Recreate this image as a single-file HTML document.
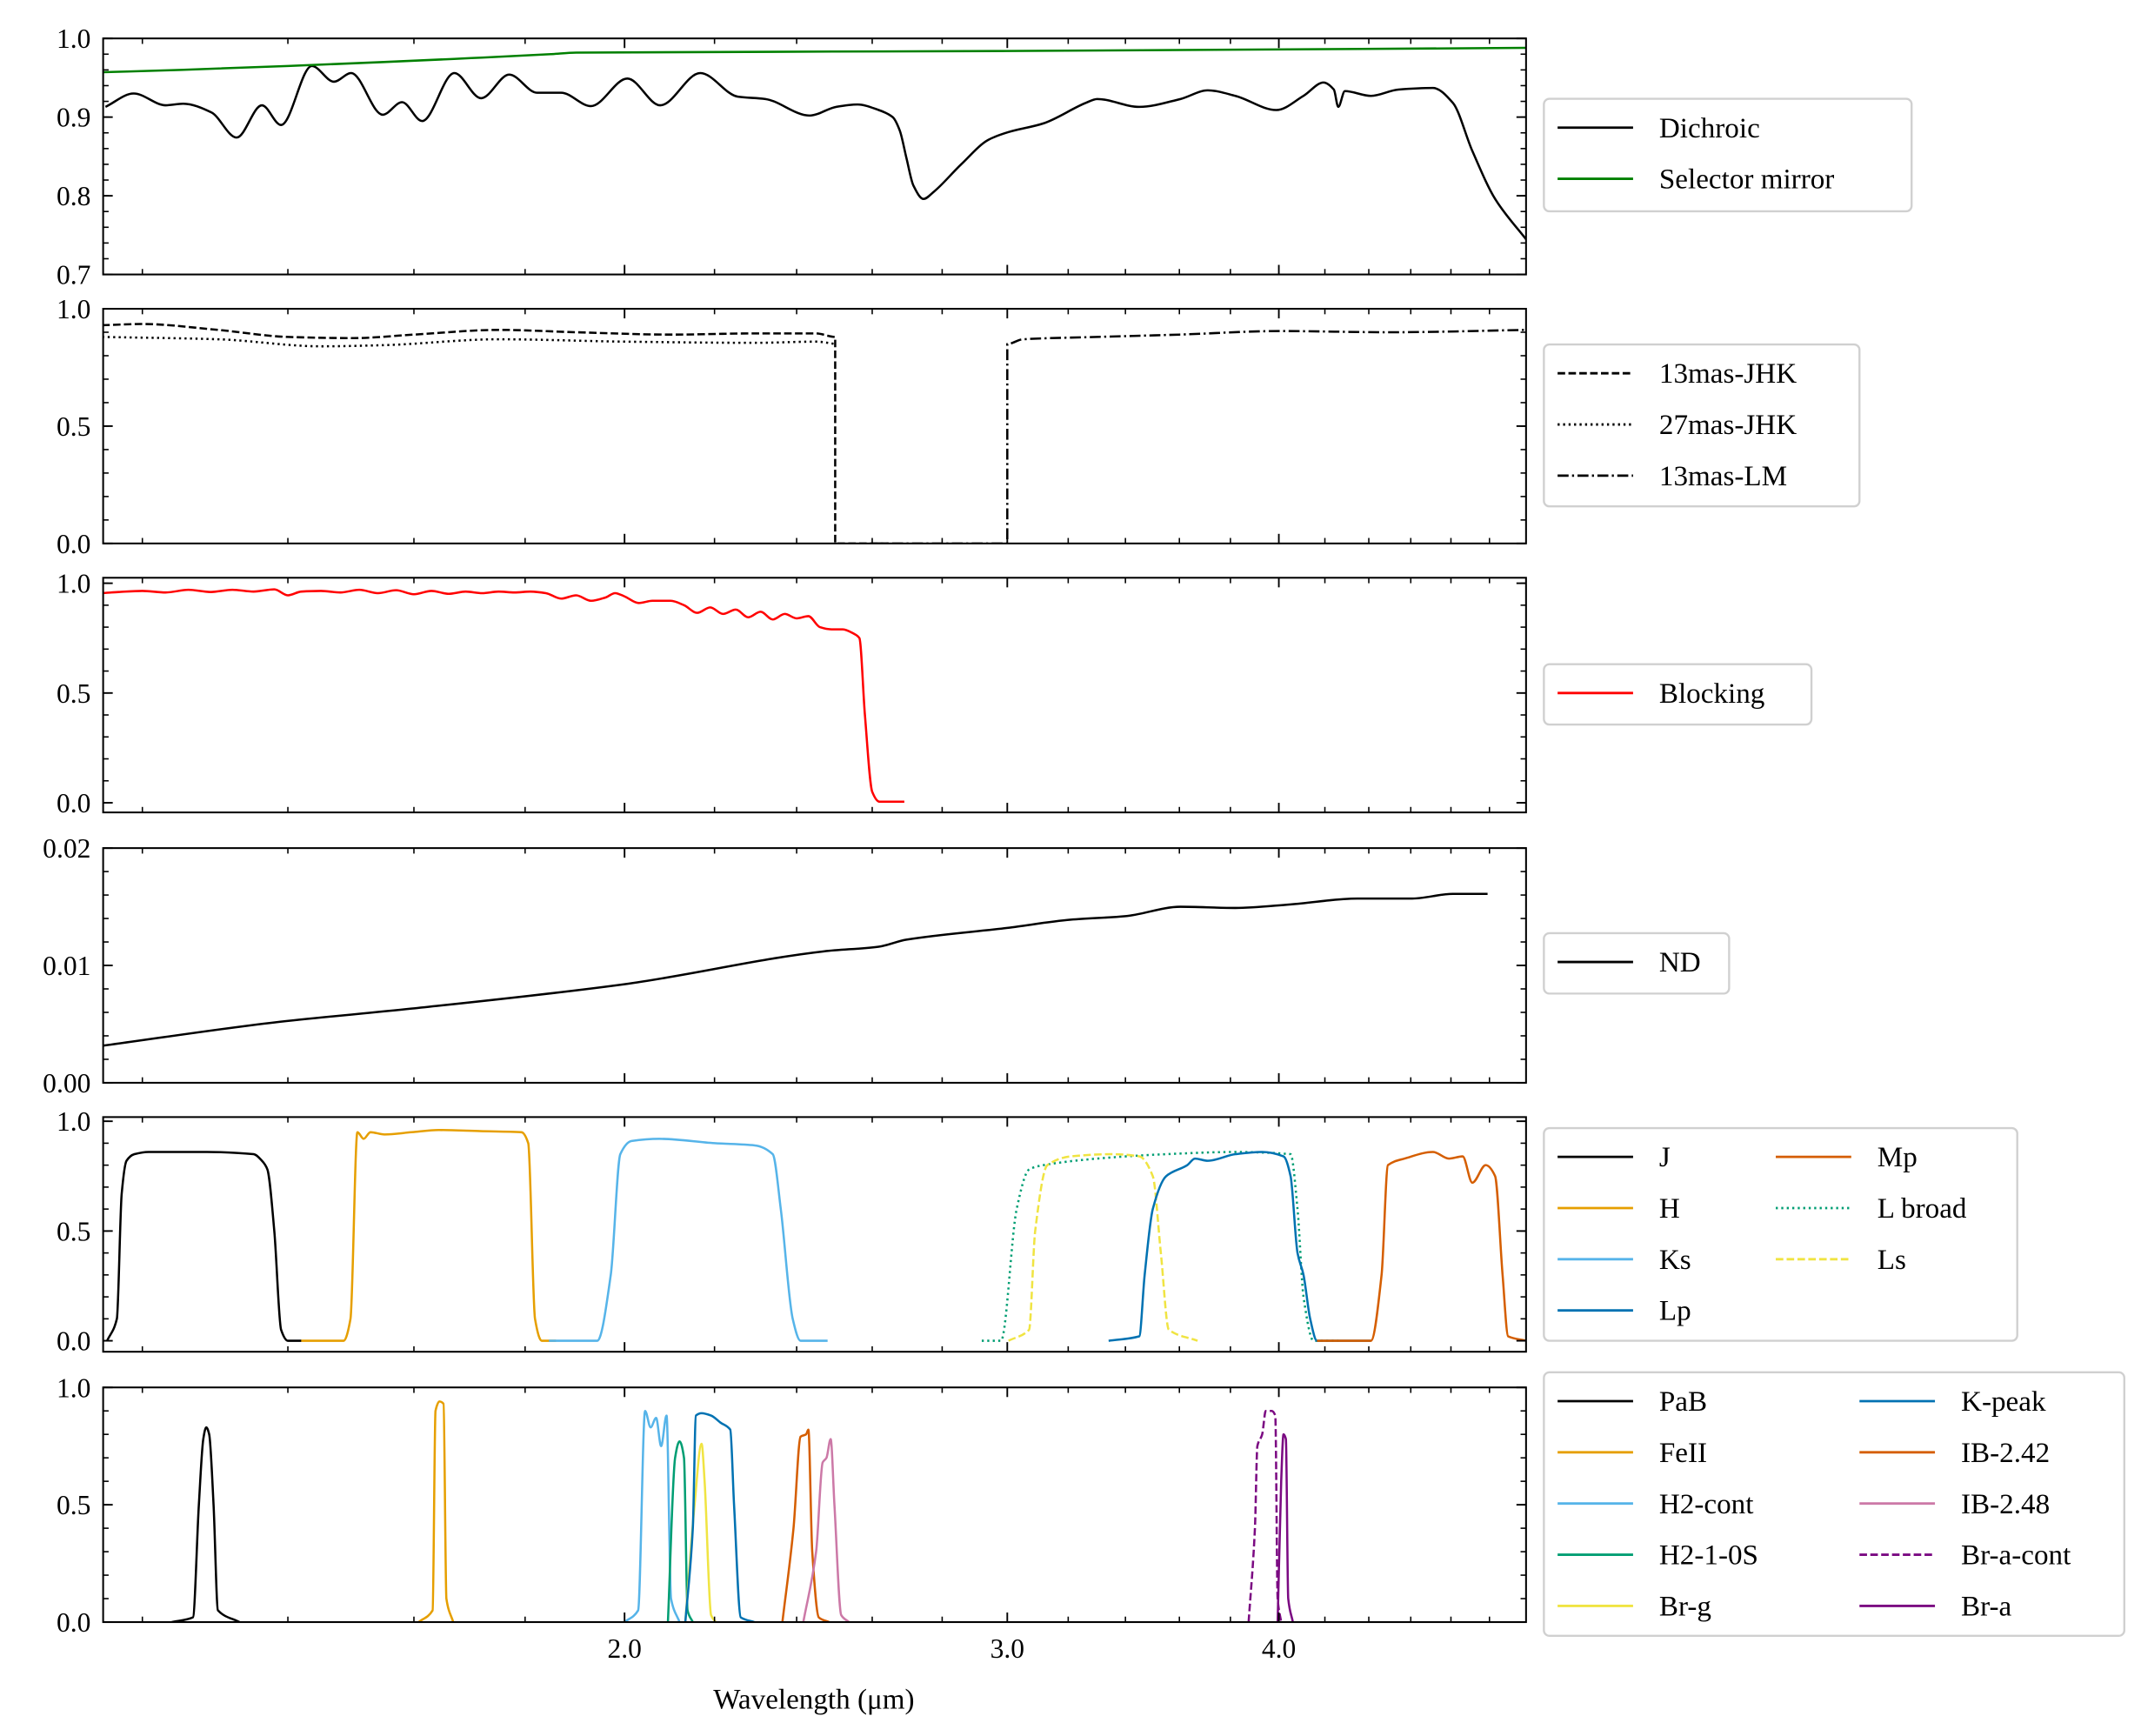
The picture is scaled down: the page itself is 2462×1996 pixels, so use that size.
<!DOCTYPE html>
<html><head><meta charset="utf-8"><style>
html,body{margin:0;padding:0;background:#fff}
svg{display:block}
text{font-family:"Liberation Serif",serif;fill:#000}
</style></head><body>
<svg id="chart" width="2462" height="1996" viewBox="0 0 1560 1265" xmlns="http://www.w3.org/2000/svg"></svg>
<script>
// ---- data ----
const dichroicW=[1.154,1.189,1.23,1.253,1.291,1.326,1.362,1.39,1.436,1.47,1.497,1.548,1.58,1.614,1.67,1.718,1.77,1.823,1.87,1.93,2.006,2.077,2.167,2.255,2.322,2.433,2.503,2.56,2.618,2.657,2.677,2.696,2.716,2.745,2.775,2.857,2.94,3.004,3.117,3.26,3.30,3.45,3.604,3.71,3.82,3.99,4.106,4.194,4.24,4.26,4.29,4.41,4.54,4.71,4.81,4.91,5.03,5.2];
const dichroicV=[0.913,0.930,0.915,0.917,0.906,0.874,0.915,0.890,0.965,0.945,0.956,0.903,0.919,0.895,0.956,0.924,0.954,0.931,0.931,0.914,0.949,0.915,0.956,0.926,0.923,0.902,0.913,0.916,0.909,0.900,0.883,0.848,0.813,0.796,0.805,0.840,0.871,0.881,0.892,0.918,0.923,0.913,0.923,0.934,0.927,0.909,0.927,0.944,0.935,0.913,0.933,0.927,0.935,0.937,0.918,0.857,0.796,0.744];
const mirrorW=[1.15,1.25,1.4,1.55,1.7,1.85,1.9,3.0,5.2];
const mirrorV=[0.957,0.960,0.965,0.970,0.975,0.980,0.982,0.984,0.988];
const jhk13W=[1.15,1.2,1.3,1.4,1.5,1.6,1.75,1.9,2.1,2.3,2.45,2.5,2.5,2.65];
const jhk13V=[0.93,0.935,0.91,0.88,0.875,0.89,0.91,0.9,0.89,0.895,0.895,0.88,0.0,0.0];
const jhk27W=[1.15,1.3,1.45,1.55,1.75,2.0,2.3,2.45,2.5];
const jhk27V=[0.88,0.87,0.84,0.845,0.87,0.86,0.855,0.86,0.85];
const lm13W=[2.6,3.0,3.0,3.05,3.3,3.6,4.0,4.5,5.2];
const lm13V=[0,0,0.85,0.87,0.88,0.89,0.905,0.9,0.91];
const blockW=[1.15,1.17,1.2,1.23,1.26,1.29,1.32,1.35,1.38,1.40,1.42,1.45,1.48,1.51,1.54,1.57,1.60,1.63,1.66,1.69,1.72,1.75,1.78,1.81,1.84,1.87,1.9,1.93,1.96,1.98,2.0,2.03,2.06,2.1,2.13,2.16,2.19,2.22,2.25,2.28,2.31,2.34,2.37,2.40,2.43,2.46,2.49,2.52,2.55,2.565,2.58,2.60,2.62,2.69];
const blockV=[0.955,0.96,0.965,0.958,0.97,0.96,0.97,0.962,0.972,0.945,0.962,0.965,0.958,0.97,0.955,0.968,0.95,0.965,0.952,0.962,0.955,0.962,0.958,0.962,0.955,0.93,0.945,0.92,0.935,0.955,0.94,0.91,0.92,0.92,0.9,0.865,0.89,0.86,0.88,0.845,0.87,0.835,0.86,0.84,0.85,0.8,0.79,0.79,0.77,0.75,0.4,0.05,0.005,0.005];
const ndW=[1.151,1.381,1.596,2.0,2.47,2.618,2.696,3.0,3.209,3.40,3.604,3.82,4.05,4.347,4.607,4.81,4.99];
const ndV=[0.00316,0.00515,0.00632,0.0084,0.0112,0.0116,0.0122,0.0132,0.0139,0.0142,0.015,0.0149,0.0152,0.0157,0.0157,0.0161,0.0161];
const jW=[1.156,1.168,1.174,1.18,1.19,1.208,1.285,1.35,1.362,1.37,1.38,1.39,1.40,1.42];
const jV=[0,0.1,0.67,0.82,0.85,0.86,0.86,0.85,0.82,0.78,0.5,0.05,0,0];
const hW=[1.42,1.485,1.496,1.507,1.517,1.528,1.551,1.596,1.643,1.716,1.793,1.806,1.819,1.832,1.86];
const hV=[0,0,0.1,0.95,0.92,0.95,0.94,0.95,0.96,0.955,0.95,0.9,0.1,0,0];
const ksW=[1.846,1.943,1.971,1.991,2.015,2.075,2.2,2.296,2.34,2.36,2.39,2.41,2.48];
const ksV=[0,0,0.3,0.85,0.91,0.92,0.9,0.89,0.85,0.6,0.1,0,0];
const lbW=[2.92,2.98,3.03,3.07,3.117,3.3,3.55,3.82,4.05,4.08,4.106,4.15,4.26];
const lbV=[0,0,0.6,0.78,0.8,0.83,0.85,0.86,0.85,0.6,0.2,0,0];
const lsW=[3.004,3.07,3.09,3.13,3.209,3.35,3.45,3.50,3.53,3.56,3.67];
const lsV=[0,0.05,0.5,0.8,0.84,0.85,0.84,0.75,0.4,0.05,0];
const lpW=[3.34,3.45,3.47,3.5,3.55,3.63,3.66,3.71,3.82,3.93,4.02,4.05,4.08,4.106,4.135,4.165,4.41];
const lpV=[0,0.02,0.3,0.6,0.75,0.8,0.83,0.82,0.85,0.86,0.84,0.75,0.4,0.3,0.1,0,0];
const mpW=[4.165,4.41,4.46,4.49,4.57,4.71,4.79,4.86,4.91,4.98,5.03,5.07,5.1,5.2];
const mpV=[0,0,0.3,0.8,0.83,0.86,0.83,0.84,0.72,0.8,0.75,0.3,0.02,0];
const pabW=[1.238,1.266,1.274,1.280,1.284,1.288,1.294,1.300,1.330];
const pabV=[0,0.02,0.5,0.78,0.83,0.8,0.5,0.05,0];
const feW=[1.608,1.632,1.637,1.644,1.651,1.656,1.668];
const feV=[0,0.05,0.9,0.94,0.93,0.1,0];
const h2cW=[2.0,2.029,2.044,2.056,2.068,2.079,2.091,2.101,2.12];
const h2cV=[0,0.05,0.9,0.83,0.87,0.75,0.88,0.1,0];
const h2sW=[2.094,2.11,2.12,2.13,2.138,2.15];
const h2sV=[0,0.7,0.77,0.7,0.05,0];
const brgW=[2.133,2.154,2.17,2.177,2.192,2.203];
const brgV=[0,0.5,0.76,0.6,0.03,0];
const kpW=[2.133,2.15,2.157,2.17,2.192,2.214,2.237,2.246,2.262,2.295];
const kpV=[0,0.4,0.88,0.89,0.88,0.85,0.82,0.5,0.02,0];
const ib242W=[2.364,2.392,2.41,2.424,2.43,2.44,2.457,2.484];
const ib242V=[0,0.4,0.79,0.8,0.82,0.3,0.02,0];
const ib248W=[2.417,2.45,2.467,2.477,2.488,2.498,2.516,2.537];
const ib248V=[0,0.3,0.68,0.7,0.78,0.5,0.03,0];
const braCW=[3.874,3.9,3.91,3.93,3.945,3.97,3.985,3.995,4.01];
const braCV=[0,0.4,0.75,0.8,0.9,0.9,0.88,0.1,0];
const braW=[3.995,4.01,4.02,4.03,4.04,4.06];
const braV=[0,0.6,0.8,0.78,0.1,0];
const yTickLabels=[["0.7","0.8","0.9","1.0"],["0.0","0.5","1.0"],["0.0","0.5","1.0"],["0.00","0.01","0.02"],["0.0","0.5","1.0"],["0.0","0.5","1.0"]];
const xTickLabels=["2.0","3.0","4.0"];

// ---- layout ----
const NS="http://www.w3.org/2000/svg";
const svg=document.getElementById('chart');
const L=75,R=1112;
function xs(w){return 455+1584*Math.log10(w/2);}
function mk(tag,attrs,parent){const e=document.createElementNS(NS,tag);for(const k in attrs)e.setAttribute(k,attrs[k]);(parent||svg).appendChild(e);return e;}
const panels=[
 {top:28,bot:200,ymin:0.7,ymax:1.0,major:[0.7,0.8,0.9,1.0],minor:0.02},
 {top:225,bot:396,ymin:0,ymax:1.0,major:[0,0.5,1.0],minor:0.1},
 {top:421,bot:592,ymin:-0.044,ymax:1.025,major:[0,0.5,1.0],minor:0.1},
 {top:618,bot:789,ymin:0,ymax:0.02,major:[0,0.01,0.02],minor:0.002},
 {top:814,bot:985,ymin:-0.05,ymax:1.019,major:[0,0.5,1.0],minor:0.1},
 {top:1011,bot:1182,ymin:0,ymax:1.0,major:[0,0.5,1.0],minor:0.1}
];
const minorX=[1.2,1.4,1.6,1.8,2.2,2.4,2.6,2.8,3.2,3.4,3.6,3.8,4.2,4.4,4.6,4.8,5.0];
const majorX=[2,3,4];
const dashes={solid:null,dashed:"5.5,2.4",dotted:"1.5,2.5",dashdot:"8,2.5,1.5,2.5"};

function ys(p,v){return p.bot-(v-p.ymin)/(p.ymax-p.ymin)*(p.bot-p.top);}
function smoothPath(X,Y){
  const n=X.length,d=[],vert=[];
  for(let i=0;i<n-1;i++){const dx=X[i+1]-X[i];vert[i]=dx<0.3;d[i]=vert[i]?0:(Y[i+1]-Y[i])/dx;}
  const m=[];
  for(let i=0;i<n;i++){
    if(i===0)m[i]=vert[0]?0:d[0];
    else if(i===n-1)m[i]=vert[n-2]?0:d[n-2];
    else if(vert[i-1]||vert[i]||d[i-1]*d[i]<=0)m[i]=0;
    else m[i]=2/(1/d[i-1]+1/d[i]);
  }
  let s='M'+X[0].toFixed(2)+','+Y[0].toFixed(2);
  for(let i=0;i<n-1;i++){
    if(vert[i]){s+='L'+X[i+1].toFixed(2)+','+Y[i+1].toFixed(2);continue;}
    const h=(X[i+1]-X[i])/3;
    s+='C'+(X[i]+h).toFixed(2)+','+(Y[i]+m[i]*h).toFixed(2)+' '+(X[i+1]-h).toFixed(2)+','+(Y[i+1]-m[i+1]*h).toFixed(2)+' '+X[i+1].toFixed(2)+','+Y[i+1].toFixed(2);
  }
  return s;
}
function line(p,W,V,color,style,name){
  const X=W.map(xs),Y=V.map(v=>ys(p,v));
  const a={d:smoothPath(X,Y),fill:'none',stroke:color,'stroke-width':1.6,'stroke-linejoin':'round'};
  if(dashes[style])a['stroke-dasharray']=dashes[style];
  const e=mk('path',a,p.g);
  
  
}

panels.forEach((p,i)=>{
  p.g=mk('g',{});
  
  
  const clip=mk('clipPath',{id:'c'+i});mk('rect',{x:L,y:p.top,width:R-L,height:p.bot-p.top},clip);
  p.plot=mk('g',{'clip-path':'url(#c'+i+')'},p.g);
  minorX.forEach(w=>{const x=xs(w);mk('line',{x1:x,x2:x,y1:p.bot,y2:p.bot-4,stroke:'#000','stroke-width':1},p.g);mk('line',{x1:x,x2:x,y1:p.top,y2:p.top+4,stroke:'#000','stroke-width':1},p.g);});
  majorX.forEach(w=>{const x=xs(w);mk('line',{x1:x,x2:x,y1:p.bot,y2:p.bot-7,stroke:'#000','stroke-width':1.2},p.g);mk('line',{x1:x,x2:x,y1:p.top,y2:p.top+7,stroke:'#000','stroke-width':1.2},p.g);});
  const n0=Math.ceil((p.ymin-1e-9)/p.minor),n1=Math.floor((p.ymax+1e-9)/p.minor);
  for(let n=n0;n<=n1;n++){const y=ys(p,n*p.minor);mk('line',{x1:L,x2:L+4,y1:y,y2:y,stroke:'#000','stroke-width':1},p.g);mk('line',{x1:R,x2:R-4,y1:y,y2:y,stroke:'#000','stroke-width':1},p.g);}
  p.major.forEach((v,k)=>{const y=ys(p,v);mk('line',{x1:L,x2:L+7,y1:y,y2:y,stroke:'#000','stroke-width':1.2},p.g);mk('line',{x1:R,x2:R-7,y1:y,y2:y,stroke:'#000','stroke-width':1.2},p.g);
    const t=mk('text',{x:66,y:y+7,'text-anchor':'end','font-size':20},p.g);t.textContent=yTickLabels[i][k];
    
    });
  mk('rect',{x:L,y:p.top,width:R-L,height:p.bot-p.top,fill:'none',stroke:'#000','stroke-width':1.3},p.g);
  p.g=p.plot;
});

const P=panels;
line(P[0],dichroicW,dichroicV,'#000','solid','dichroic-line');
line(P[0],mirrorW,mirrorV,'#008000','solid','selector-mirror-line');
line(P[1],jhk13W,jhk13V,'#000','dashed','13mas-jhk-line');
line(P[1],jhk27W,jhk27V,'#000','dotted','27mas-jhk-line');
line(P[1],lm13W,lm13V,'#000','dashdot','13mas-lm-line');
line(P[2],blockW,blockV,'#ff0000','solid','blocking-line');
line(P[3],ndW,ndV,'#000','solid','nd-line');
line(P[4],jW,jV,'#000','solid','j-filter-line');
line(P[4],hW,hV,'#E69F00','solid','h-filter-line');
line(P[4],ksW,ksV,'#56B4E9','solid','ks-filter-line');
line(P[4],lbW,lbV,'#009E73','dotted','l-broad-filter-line');
line(P[4],lsW,lsV,'#F0E442','dashed','ls-filter-line');
line(P[4],lpW,lpV,'#0072B2','solid','lp-filter-line');
line(P[4],mpW,mpV,'#D55E00','solid','mp-filter-line');
line(P[5],pabW,pabV,'#000','solid','pab-filter-line');
line(P[5],feW,feV,'#E69F00','solid','feii-filter-line');
line(P[5],h2cW,h2cV,'#56B4E9','solid','h2-cont-filter-line');
line(P[5],h2sW,h2sV,'#009E73','solid','h2-1-0s-filter-line');
line(P[5],brgW,brgV,'#F0E442','solid','br-g-filter-line');
line(P[5],kpW,kpV,'#0072B2','solid','k-peak-filter-line');
line(P[5],ib242W,ib242V,'#D55E00','solid','ib-2.42-filter-line');
line(P[5],ib248W,ib248V,'#CC79A7','solid','ib-2.48-filter-line');
line(P[5],braCW,braCV,'#7B0A82','dashed','br-a-cont-filter-line');
line(P[5],braW,braV,'#7B0A82','solid','br-a-filter-line');

majorX.forEach((w,k)=>{const t=mk('text',{x:xs(w),y:1208,'text-anchor':'middle','font-size':20});t.textContent=xTickLabels[k];
  
  });
const xl=mk('text',{x:593,y:1245,'text-anchor':'middle','font-size':21});
xl.textContent='Wavelength (μm)';



function legend(name,x,y,w,h,cols){
  const g=mk('g',{});
  
  
  mk('rect',{x:x,y:y,width:w,height:h,rx:4,fill:'#fff',stroke:'#d0d0d0','stroke-width':1.5},g);
  cols.forEach(c=>c.items.forEach((it,k)=>{
    const yy=y+21+k*37.3;
    const a={x1:c.lx,x2:c.lx+55,y1:yy,y2:yy,stroke:it[1],'stroke-width':1.8};
    if(dashes[it[2]])a['stroke-dasharray']=dashes[it[2]];
    mk('line',a,g);
    const t=mk('text',{x:c.lx+74,y:yy+7,'font-size':21},g);t.textContent=it[0];
    
    
  }));
}
legend('legend-mirrors',1125,72,268,82,[{lx:1135,items:[['Dichroic','#000','solid'],['Selector mirror','#008000','solid']]}]);
legend('legend-pupil-masks',1125,251,230,118,[{lx:1135,items:[['13mas-JHK','#000','dashed'],['27mas-JHK','#000','dotted'],['13mas-LM','#000','dashdot']]}]);
legend('legend-blocking',1125,484,195,44,[{lx:1135,items:[['Blocking','#ff0000','solid']]}]);
legend('legend-nd',1125,680,135,44,[{lx:1135,items:[['ND','#000','solid']]}]);
legend('legend-broadband',1125,822,345,155,[{lx:1135,items:[['J','#000','solid'],['H','#E69F00','solid'],['Ks','#56B4E9','solid'],['Lp','#0072B2','solid']]},{lx:1294,items:[['Mp','#D55E00','solid'],['L broad','#009E73','dotted'],['Ls','#F0E442','dashed']]}]);
legend('legend-narrowband',1125,1000,423,192,[{lx:1135,items:[['PaB','#000','solid'],['FeII','#E69F00','solid'],['H2-cont','#56B4E9','solid'],['H2-1-0S','#009E73','solid'],['Br-g','#F0E442','solid']]},{lx:1355,items:[['K-peak','#0072B2','solid'],['IB-2.42','#D55E00','solid'],['IB-2.48','#CC79A7','solid'],['Br-a-cont','#7B0A82','dashed'],['Br-a','#7B0A82','solid']]}]);
</script>
</body></html>
